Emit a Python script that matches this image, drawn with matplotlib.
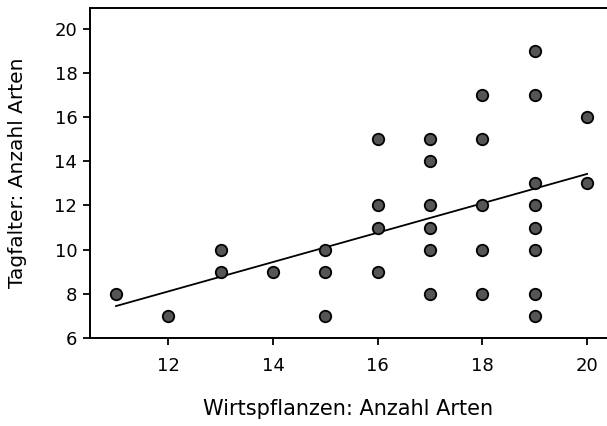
import numpy as np
import matplotlib
matplotlib.use("Agg")
import matplotlib.pyplot as plt

# Wirtspflanzen (x) vs Tagfalter (y)
wirts = [11, 12, 13, 13, 14, 15, 15, 15,
         16, 16, 16, 16,
         17, 17, 17, 17, 17, 17,
         18, 18, 18, 18, 18,
         19, 19, 19, 19, 19, 19, 19, 19,
         20, 20]
tagf = [8, 7, 10, 9, 9, 10, 9, 7,
        15, 12, 11, 9,
        15, 14, 12, 11, 10, 8,
        17, 15, 12, 10, 8,
        19, 17, 13, 12, 11, 10, 8, 7,
        16, 13]

x = np.array(wirts)
y = np.array(tagf)
m, b = np.polyfit(x, y, 1)

fig = plt.figure(figsize=(6.07, 4.26), dpi=100)
ax = fig.add_axes([0.148, 0.207, 0.852, 0.774])

xs = np.array([x.min(), x.max()])
ax.plot(xs, m * xs + b, color="black", lw=1.3, zorder=2)
ax.scatter(x, y, s=68, c="#555555", edgecolors="black", linewidths=1.3, zorder=3)

ax.set_xlim(10.5, 20.38)
ax.set_ylim(6, 20.95)
ax.set_xticks([12, 14, 16, 18, 20])
ax.set_yticks([6, 8, 10, 12, 14, 16, 18, 20])
ax.tick_params(direction="out", length=5, width=1.3, labelsize=13, pad=9)
ax.tick_params(axis="y", pad=4)
for s in ["left", "bottom", "top"]:
    ax.spines[s].set_linewidth(1.4)
ax.spines["right"].set_visible(False)

ax.set_xlabel("Wirtspflanzen: Anzahl Arten", fontsize=15, labelpad=17)
ax.set_ylabel("Tagfalter: Anzahl Arten", fontsize=14.5, labelpad=20)

fig.savefig("out.png", dpi=100)
